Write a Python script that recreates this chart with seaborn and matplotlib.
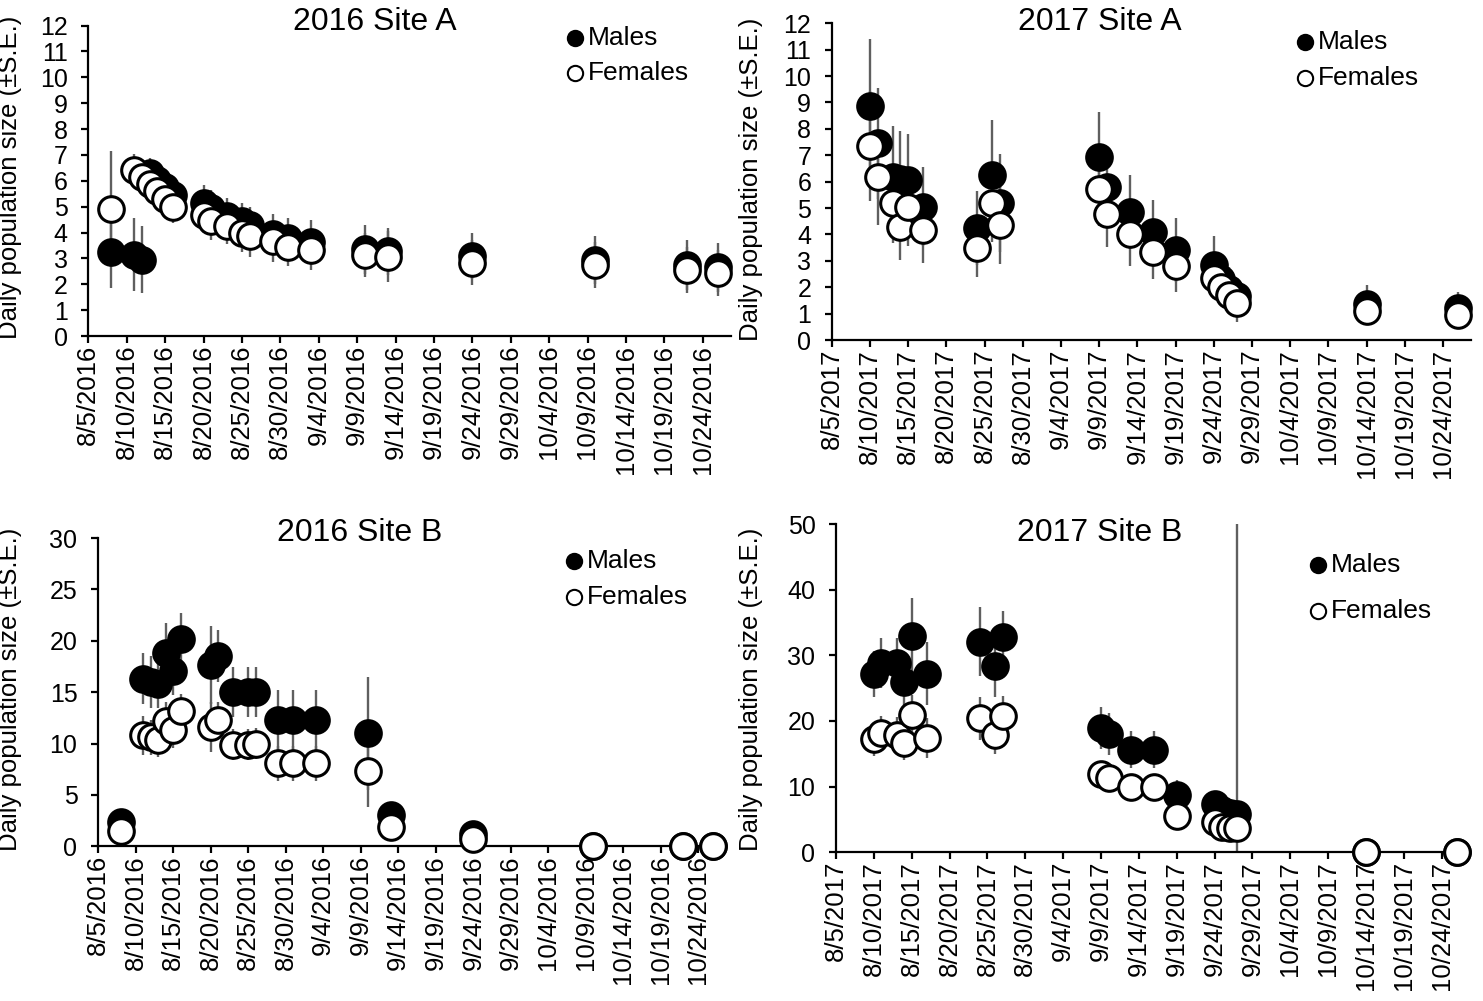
import numpy as np
import pandas as pd
import matplotlib
matplotlib.use("Agg")
import matplotlib.pyplot as plt
from matplotlib.lines import Line2D
import seaborn as sns

# ---------------- data ----------------
tick_days = ["8/5", "8/10", "8/15", "8/20", "8/25", "8/30", "9/4", "9/9", "9/14",
             "9/19", "9/24", "9/29", "10/4", "10/9", "10/14", "10/19", "10/24"]

# 2016 Site A
a16_m_dates = ["8/8", "8/11", "8/12", "8/13", "8/14", "8/15", "8/16", "8/20", "8/21", "8/23",
               "8/25", "8/26", "8/29", "8/31", "9/3", "9/10", "9/13", "9/24", "10/10", "10/22", "10/26"]
a16_m = [3.25, 3.15, 2.95, 6.3, 6.02, 5.75, 5.45, 5.15, 4.95, 4.65, 4.45, 4.3, 3.95, 3.78, 3.62,
         3.35, 3.27, 3.1, 2.95, 2.75, 2.65]
a16_m_se = [1.4, 1.4, 1.3, 0.6, 0.6, 0.6, 0.6, 0.7, 0.7, 0.7, 0.7, 0.7, 0.75, 0.8, 0.85,
            0.95, 0.9, 0.9, 0.93, 0.97, 0.95]
a16_f_dates = ["8/8", "8/11", "8/12", "8/13", "8/14", "8/15", "8/16", "8/20", "8/21", "8/23",
               "8/25", "8/26", "8/29", "8/31", "9/3", "9/10", "9/13", "9/24", "10/10", "10/22", "10/26"]
a16_f = [4.9, 6.43, 6.15, 5.88, 5.59, 5.3, 4.97, 4.69, 4.43, 4.24, 3.98, 3.85, 3.66, 3.46, 3.31,
         3.14, 3.07, 2.84, 2.75, 2.56, 2.43]
a16_f_se = [2.25, 0.6, 0.6, 0.6, 0.6, 0.6, 0.6, 0.7, 0.7, 0.7, 0.75, 0.78, 0.78, 0.75, 0.75,
            0.85, 0.97, 0.86, 0.9, 0.88, 0.88]

# 2017 Site A
a17_dates = ["8/10", "8/11", "8/13", "8/14", "8/15", "8/17", "8/24", "8/26", "8/27", "9/9",
             "9/10", "9/13", "9/16", "9/19", "9/24", "9/25", "9/26", "9/27", "10/14", "10/26"]
a17_m = [8.86, 7.45, 6.19, 6.1, 6.05, 5.05, 4.23, 6.25, 5.2, 6.92, 5.81, 4.86, 4.1, 3.41,
         2.84, 2.3, 1.95, 1.65, 1.35, 1.2]
a17_m_se = [2.56, 2.1, 1.9, 1.8, 1.75, 1.5, 1.4, 2.1, 1.85, 1.7, 1.3, 1.4, 1.2, 1.2,
            1.1, 0.9, 0.8, 0.7, 0.75, 0.6]
a17_f = [7.35, 6.16, 5.18, 4.29, 5.05, 4.17, 3.47, 5.2, 4.36, 5.71, 4.77, 4.02, 3.35, 2.8,
         2.34, 2.02, 1.7, 1.39, 1.1, 0.95]
a17_f_se = [2.1, 1.8, 1.5, 1.26, 1.5, 1.24, 1.1, 1.5, 1.5, 1.4, 1.26, 1.2, 1.05, 0.97,
            0.8, 0.7, 0.7, 0.7, 0.5, 0.5]

# 2016 Site B
b16_dates = ["8/8", "8/11", "8/12", "8/13", "8/14", "8/15", "8/16", "8/20", "8/21", "8/23",
             "8/25", "8/26", "8/29", "8/31", "9/3", "9/10", "9/13", "9/24", "10/10", "10/22", "10/26"]
b16_m = [2.4, 16.3, 16.0, 15.8, 18.8, 17.1, 20.2, 17.6, 18.5, 15.0, 15.0, 15.0, 12.3, 12.3, 12.3,
         11.0, 3.0, 1.2, 0, 0, 0]
b16_m_se = [0.5, 2.5, 2.5, 2.3, 2.9, 2.4, 2.5, 3.8, 2.5, 2.4, 2.4, 2.4, 2.9, 2.9, 2.9,
            5.5, 0.6, 0.4, 0, 0, 0]
b16_f = [1.5, 10.8, 10.6, 10.3, 12.2, 11.3, 13.2, 11.6, 12.3, 9.9, 9.9, 10.0, 8.1, 8.1, 8.1,
         7.3, 1.85, 0.7, 0, 0, 0]
b16_f_se = [0.4, 1.9, 1.7, 1.6, 1.8, 1.7, 1.6, 2.4, 1.7, 1.5, 1.5, 1.5, 1.7, 1.7, 1.7,
            3.5, 0.5, 0.3, 0, 0, 0]

# 2017 Site B
b17_dates = ["8/10", "8/11", "8/13", "8/14", "8/15", "8/17", "8/24", "8/26", "8/27", "9/9",
             "9/10", "9/13", "9/16", "9/19", "9/24", "9/25", "9/26", "9/27", "10/14", "10/26"]
b17_m = [27.2, 28.8, 28.8, 26.0, 33.0, 27.2, 32.1, 28.4, 32.8, 18.9, 18.0, 15.6, 15.6, 8.7,
         7.4, 6.5, 6.0, 5.8, 0, 0]
b17_m_se = [3.5, 3.8, 3.8, 3.5, 5.7, 4.8, 5.2, 4.7, 4.0, 3.2, 3.2, 2.8, 2.8, 2.3,
            1.8, 1.5, 1.5, 80.0, 0, 0]
b17_f = [17.2, 18.1, 17.9, 16.6, 20.9, 17.4, 20.4, 17.9, 20.8, 11.9, 11.3, 10.0, 10.0, 5.5,
         4.6, 3.9, 3.65, 3.65, 0, 0]
b17_f_se = [2.5, 2.7, 2.7, 2.5, 3.0, 3.1, 3.3, 2.9, 3.0, 2.0, 2.0, 1.8, 1.8, 1.5,
            1.2, 1.0, 1.0, 1.0, 0, 0]

titles = ["2016 Site A", "2017 Site A", "2016 Site B", "2017 Site B"]
years = [2016, 2017, 2016, 2017]
ylabel = "Daily population size (\u00b1S.E.)"

# ---------------- style ----------------
sns.set_theme(style="ticks")
plt.rcParams["font.family"] = ["Liberation Sans", "DejaVu Sans"]

W, H = 1483, 1001
fig = plt.figure(figsize=(W / 100, H / 100), dpi=100)


def fx(px):
    return px / W


def fy(py):
    return 1 - py / H


def day_offset(dates, year):
    d = pd.to_datetime([f"{s}/{year}" for s in dates], format="%m/%d/%Y")
    return np.asarray((d - pd.Timestamp(year, 8, 5)).days, dtype=float)


XMAX = 83.7
# axes boxes in pixels: left, right, top, bottom
boxes = [(88.3, 88.3 + XMAX * 7.68, 25.6, 336.0),
         (831.7, 831.7 + XMAX * 7.64, 23.2, 340.0),
         (98.0, 98.0 + XMAX * 7.506, 538.0, 846.3),
         (836.0, 836.0 + XMAX * 7.57, 524.0, 852.3)]
ylims = [(0, 12, 1), (0, 12, 1), (0, 30, 5), (0, 50, 10)]
panels = [
    (a16_m_dates, a16_m, a16_m_se, a16_f_dates, a16_f, a16_f_se),
    (a17_dates, a17_m, a17_m_se, a17_dates, a17_f, a17_f_se),
    (b16_dates, b16_m, b16_m_se, b16_dates, b16_f, b16_f_se),
    (b17_dates, b17_m, b17_m_se, b17_dates, b17_f, b17_f_se),
]
title_pos = [(375, 22), (1100, 22), (360, 533), (1100, 533)]
ylabel_pos = [(22, 177), (763, 179), (22, 689), (763, 689)]
legend_pos = [((575, 38), (575, 73), 588), ((1305, 42), (1305, 78), 1318),
              ((574, 561), (574, 597), 587), ((1318, 565), (1318, 611), 1331)]

ebar_color = "#5f5f5f"

for i in range(4):
    l, r, t, b = boxes[i]
    ax = fig.add_axes([fx(l), fy(b), (r - l) / W, (b - t) / H])
    md, mv, mse, fd, fv, fse = panels[i]
    yr = years[i]
    xm = day_offset(md, yr)
    xf = day_offset(fd, yr)

    ax.errorbar(xm, mv, yerr=mse, fmt="none", ecolor=ebar_color, elinewidth=1.7,
                capsize=0, zorder=2)
    ax.errorbar(xf, fv, yerr=fse, fmt="none", ecolor=ebar_color, elinewidth=1.7,
                capsize=0, zorder=2)
    sns.scatterplot(x=xm, y=mv, ax=ax, s=340, color="black", edgecolor="black",
                    linewidth=2.2, zorder=3, clip_on=False, legend=False)
    sns.scatterplot(x=xf, y=fv, ax=ax, s=340, color="white", edgecolor="black",
                    linewidth=2.2, zorder=4, clip_on=False, legend=False)

    y0, y1, ystep = ylims[i]
    ax.set_ylim(y0, y1)
    ax.set_yticks(np.arange(y0, y1 + 0.01, ystep))
    ax.set_yticklabels([str(int(v)) for v in np.arange(y0, y1 + 0.01, ystep)], fontsize=18)
    ax.set_xlim(0, XMAX)
    tpos = day_offset(tick_days, yr)
    ax.set_xticks(tpos)
    ax.set_xticklabels([f"{s}/{yr}" for s in tick_days], rotation=90, fontsize=18.5)

    for side in ["top", "right"]:
        ax.spines[side].set_visible(False)
    for side in ["left", "bottom"]:
        ax.spines[side].set_color("black")
        ax.spines[side].set_linewidth(1.6)
    ax.tick_params(axis="both", direction="out", length=4.8, width=1.6, color="black",
                   labelcolor="black")
    ax.tick_params(axis="y", pad=10)
    ax.tick_params(axis="x", pad=1.5)
    ax.set_facecolor("white")
    ax.grid(False)

    ax.set_ylabel(ylabel, fontsize=18.5, color="black")
    ax.yaxis.set_label_coords(fx(ylabel_pos[i][0]), fy(ylabel_pos[i][1]),
                              transform=fig.transFigure)
    ax.set_xlabel("")

    fig.text(fx(title_pos[i][0]), fy(title_pos[i][1]), titles[i], fontsize=23,
             ha="center", va="center", color="black")

    (mxp, myp), (fxp, fyp), tx = legend_pos[i]
    fig.add_artist(Line2D([fx(mxp)], [fy(myp)], marker="o", ms=11, mfc="black",
                          mec="black", mew=1.5, transform=fig.transFigure, linestyle="none"))
    fig.add_artist(Line2D([fx(fxp)], [fy(fyp)], marker="o", ms=11, mfc="white",
                          mec="black", mew=1.5, transform=fig.transFigure, linestyle="none"))
    fig.text(fx(tx), fy(myp), "Males", fontsize=19, ha="left", va="center", color="black")
    fig.text(fx(tx), fy(fyp), "Females", fontsize=19, ha="left", va="center", color="black")

fig.savefig("out.png", dpi=100, facecolor="white")
